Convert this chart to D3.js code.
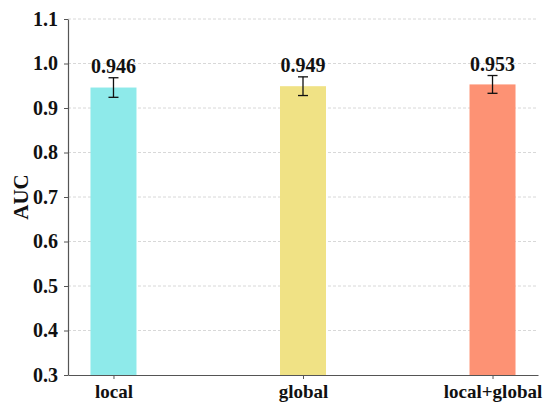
<!DOCTYPE html>
<html>
<head>
<meta charset="utf-8">
<script src="https://cdn.jsdelivr.net/npm/d3@7"></script>
<style>
  body { margin: 0; background: #fff; }
  svg { font-family: "Liberation Serif", "Times New Roman", serif; }
</style>
</head>
<body>
<svg id="chart" width="550" height="410"></svg>
<script>
// chart data
const categories = ["local", "global", "local+global"];
const aucValues = [0.946, 0.949, 0.953];
const aucErrors = [0.022, 0.021, 0.020];
const barColors = ["#8eeaea", "#f0e285", "#fd9274"];
const yTicks = [0.3, 0.4, 0.5, 0.6, 0.7, 0.8, 0.9, 1.0, 1.1];

const svg = d3.select("#chart");

const plotLeft = 68, plotRight = 538, plotTop = 19, plotBottom = 375;

const x = d3.scalePoint()
    .domain(categories)
    .range([plotLeft, plotRight])
    .padding(0.24);

const y = d3.scaleLinear()
    .domain([0.3, 1.1])
    .range([plotBottom, plotTop]);

const barWidth = 46;

// grid lines
svg.append("g")
    .selectAll("line")
    .data(yTicks.slice(1))
    .enter().append("line")
    .attr("x1", plotLeft)
    .attr("x2", plotRight)
    .attr("y1", d => y(d))
    .attr("y2", d => y(d))
    .attr("stroke", "#d8d8d8")
    .attr("stroke-width", 1)
    .attr("stroke-dasharray", "3,2");

// bars
svg.append("g")
    .selectAll("rect")
    .data(categories)
    .enter().append("rect")
    .attr("x", d => x(d) - barWidth / 2)
    .attr("width", barWidth)
    .attr("y", (d, i) => y(aucValues[i]))
    .attr("height", (d, i) => y(0.3) - y(aucValues[i]))
    .attr("fill", (d, i) => barColors[i]);

// error bars
const err = svg.append("g").attr("stroke", "#111").attr("stroke-width", 1.3);
categories.forEach((c, i) => {
    const cx = x(c);
    const hi = y(aucValues[i] + aucErrors[i]);
    const lo = y(aucValues[i] - aucErrors[i]);
    err.append("line").attr("x1", cx).attr("x2", cx).attr("y1", hi).attr("y2", lo);
    err.append("line").attr("x1", cx - 5).attr("x2", cx + 5).attr("y1", hi).attr("y2", hi);
    err.append("line").attr("x1", cx - 5).attr("x2", cx + 5).attr("y1", lo).attr("y2", lo);
});

// value labels
svg.append("g")
    .selectAll("text")
    .data(categories)
    .enter().append("text")
    .attr("x", d => x(d))
    .attr("y", (d, i) => y(aucValues[i] + aucErrors[i]) - 5)
    .attr("text-anchor", "middle")
    .attr("font-size", 20)
    .attr("font-weight", "bold")
    .attr("fill", "#111")
    .text((d, i) => aucValues[i].toFixed(3));

// y axis
const yAxis = svg.append("g")
    .attr("transform", `translate(${plotLeft},0)`)
    .call(d3.axisLeft(y).tickValues(yTicks).tickFormat(d3.format(".1f")).tickSize(4).tickSizeOuter(0));
yAxis.select(".domain").attr("stroke", "#555").attr("stroke-width", 1.2);
yAxis.selectAll(".tick line").attr("stroke", "#555");
yAxis.selectAll("text")
    .attr("font-family", "Liberation Serif, serif")
    .attr("font-size", 20)
    .attr("font-weight", "bold")
    .attr("fill", "#111")
    .attr("dx", "-3");

// x axis
const xAxis = svg.append("g")
    .attr("transform", `translate(0,${plotBottom})`)
    .call(d3.axisBottom(x).tickSize(4).tickSizeOuter(0));
xAxis.select(".domain").attr("stroke", "#555").attr("stroke-width", 1.2);
xAxis.selectAll(".tick line").attr("stroke", "#555");
xAxis.selectAll("text")
    .attr("font-family", "Liberation Serif, serif")
    .attr("font-size", 19)
    .attr("font-weight", "bold")
    .attr("fill", "#111")
    .attr("dy", "0.85em");

// y label
svg.append("text")
    .attr("transform", `translate(28,${(plotTop + plotBottom) / 2}) rotate(-90)`)
    .attr("text-anchor", "middle")
    .attr("font-size", 21)
    .attr("font-weight", "bold")
    .attr("fill", "#111")
    .text("AUC");
</script>
</body>
</html>
